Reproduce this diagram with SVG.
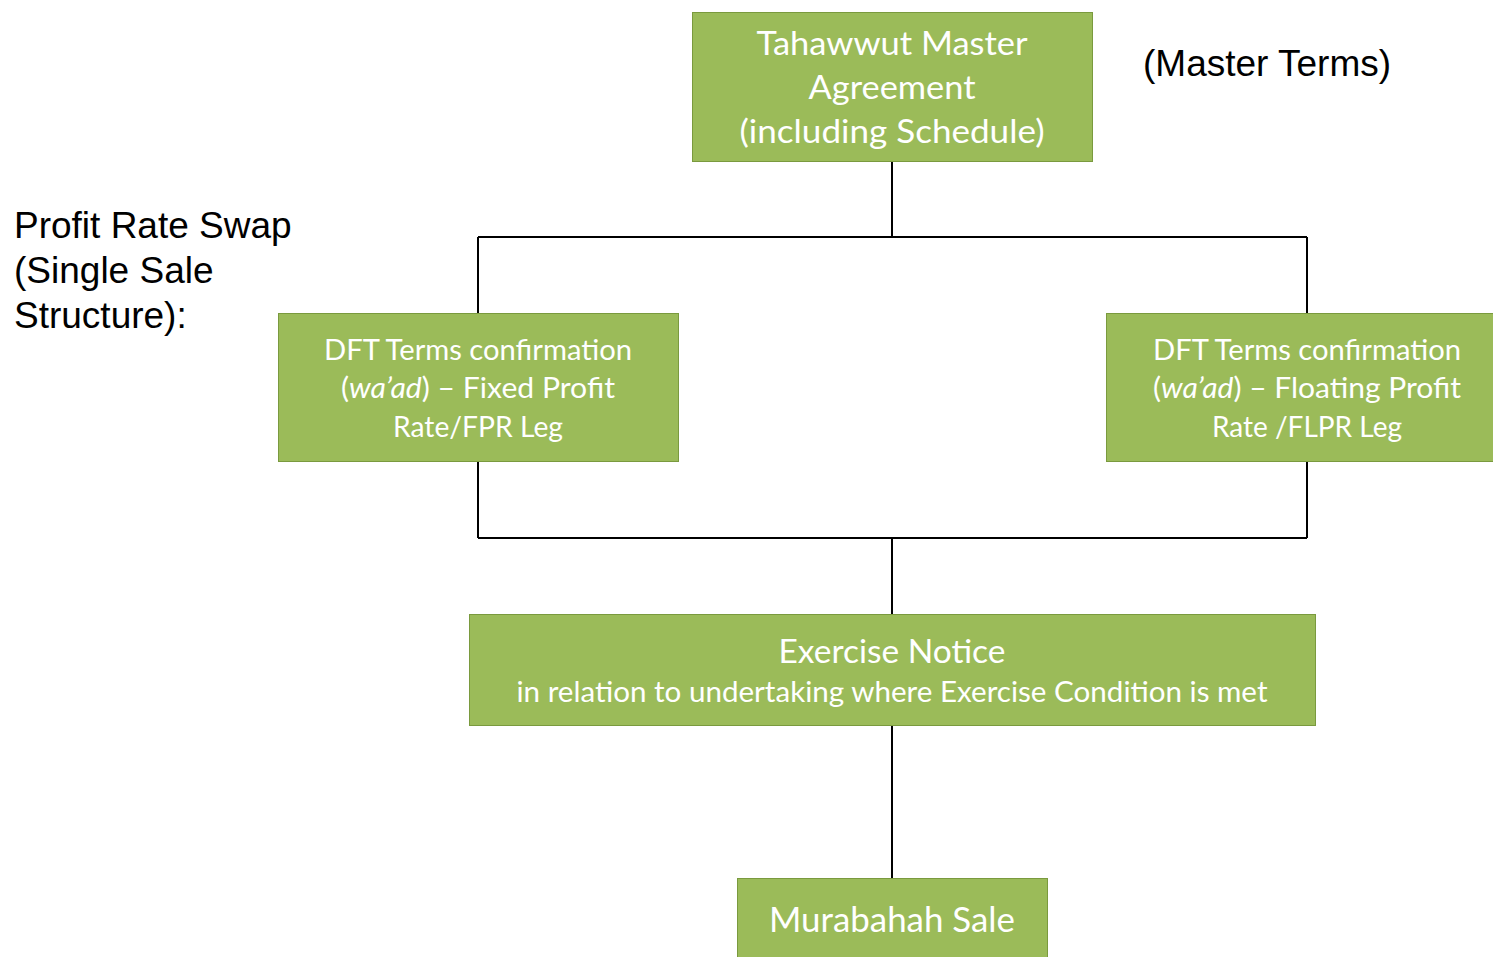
<svg xmlns="http://www.w3.org/2000/svg" width="1493" height="957" viewBox="0 0 1493 957">
  <style>
    .box { fill: #9BBB59; stroke: #7A9A3E; stroke-width: 1; }
    .lbl { font-family: Lato, "Open Sans", "Liberation Sans", sans-serif; fill: #FFFFFF; text-anchor: middle; }
    .side { font-family: "Liberation Sans", Arial, sans-serif; fill: #000000; font-size: 37px; }
    .conn { fill: none; stroke: #000000; stroke-width: 2; }
  </style>
  <rect width="1493" height="957" fill="#FFFFFF"/>

  <g id="connectors">
    <path class="conn" d="M892,161 V237 M478,237 H1307 M478,237 V313 M1307,237 V313"/>
    <path class="conn" d="M478,462 V538 M1307,462 V538 M478,538 H1307 M892,538 V614"/>
    <path class="conn" d="M892,726 V878"/>
  </g>

  <g id="master-agreement">
    <rect class="box" x="692.5" y="12.5" width="400" height="149"/>
    <text class="lbl" font-size="33"><tspan x="892" y="55" textLength="271" lengthAdjust="spacingAndGlyphs">Tahawwut Master</tspan></text>
    <text class="lbl" font-size="33"><tspan x="892" y="99" textLength="167" lengthAdjust="spacingAndGlyphs">Agreement</tspan></text>
    <text class="lbl" font-size="33"><tspan x="892" y="143" textLength="305" lengthAdjust="spacingAndGlyphs">(including Schedule)</tspan></text>
  </g>

  <g id="fixed-leg">
    <rect class="box" x="278.5" y="313.5" width="400" height="148"/>
    <text class="lbl" font-size="28" x="478" y="360" textLength="308" lengthAdjust="spacingAndGlyphs">DFT Terms confirmation</text>
    <text class="lbl" font-size="28" x="478" y="398" textLength="274" lengthAdjust="spacingAndGlyphs">(<tspan font-style="italic">wa’ad</tspan>) – Fixed Profit</text>
    <text class="lbl" font-size="28" x="478" y="437" textLength="170" lengthAdjust="spacingAndGlyphs">Rate/FPR Leg</text>
  </g>

  <g id="floating-leg">
    <rect class="box" x="1106.5" y="313.5" width="400" height="148"/>
    <text class="lbl" font-size="28" x="1307" y="360" textLength="308" lengthAdjust="spacingAndGlyphs">DFT Terms confirmation</text>
    <text class="lbl" font-size="28" x="1307" y="398" textLength="308" lengthAdjust="spacingAndGlyphs">(<tspan font-style="italic">wa’ad</tspan>) – Floating Profit</text>
    <text class="lbl" font-size="28" x="1307" y="437" textLength="190" lengthAdjust="spacingAndGlyphs">Rate /FLPR Leg</text>
  </g>

  <g id="exercise-notice">
    <rect class="box" x="469.5" y="614.5" width="846" height="111"/>
    <text class="lbl" font-size="33" x="892" y="663" textLength="227" lengthAdjust="spacingAndGlyphs">Exercise Notice</text>
    <text class="lbl" font-size="28" x="892" y="702" textLength="751" lengthAdjust="spacingAndGlyphs">in relation to undertaking where Exercise Condition is met</text>
  </g>

  <g id="murabahah-sale">
    <rect class="box" x="737.5" y="878.5" width="310" height="90"/>
    <text class="lbl" font-size="34" x="892" y="932" textLength="246" lengthAdjust="spacingAndGlyphs">Murabahah Sale</text>
  </g>

  <g id="title">
    <text class="side" x="14" y="238">Profit Rate Swap</text>
    <text class="side" x="14" y="283">(Single Sale</text>
    <text class="side" x="14" y="328">Structure):</text>
  </g>

  <g id="master-terms">
    <text class="side" x="1143" y="76">(Master Terms)</text>
  </g>
</svg>
